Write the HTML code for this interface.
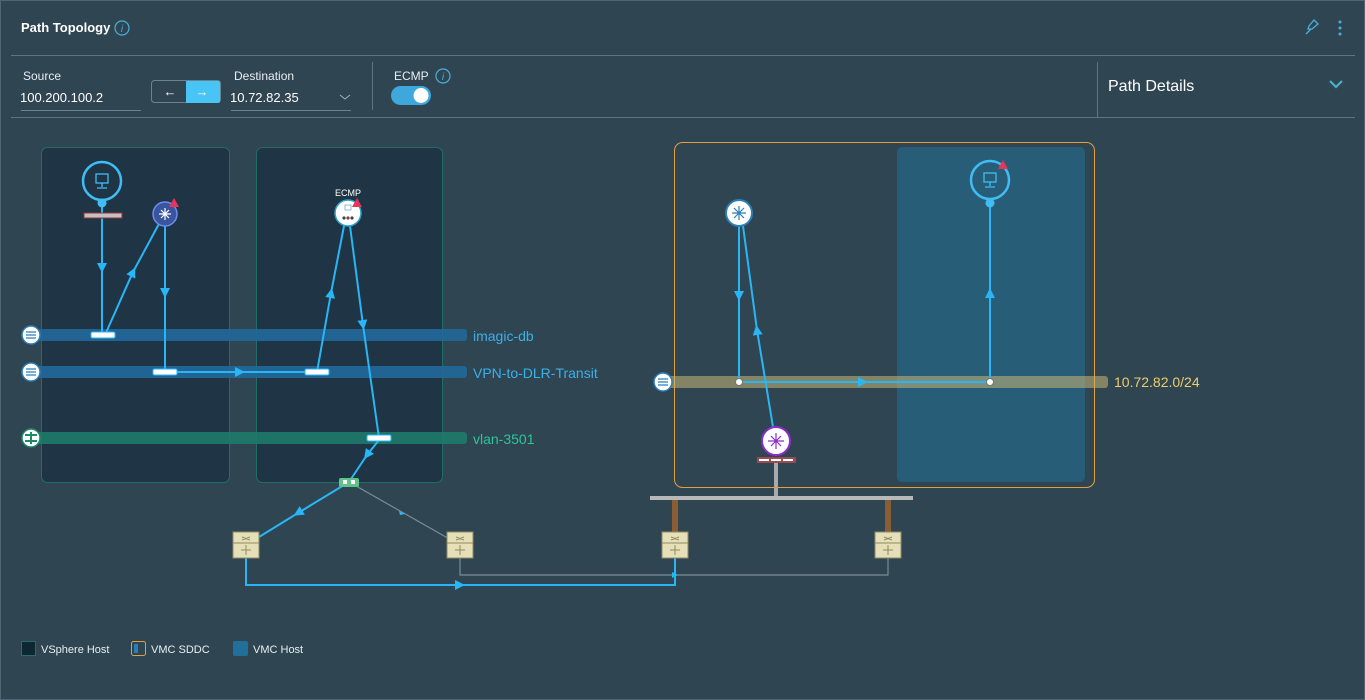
<!DOCTYPE html>
<html><head><meta charset="utf-8"><style>
html,body{margin:0;padding:0;background:#304552;}
svg{display:block;font-family:"Liberation Sans",sans-serif;}
</style></head><body>
<svg width="1365" height="700" viewBox="0 0 1365 700" xmlns="http://www.w3.org/2000/svg">
<defs>
<marker id="a" viewBox="0 0 10 10" refX="5" refY="5" markerWidth="5" markerHeight="5" orient="auto"><path d="M0,0L10,5L0,10z" fill="#29b6f6"/></marker>
</defs>
<rect x="0.5" y="0.5" width="1364" height="699" fill="#304552" stroke="#4f6573"/>
<!-- header -->
<text x="21" y="32" font-size="13" font-weight="bold" fill="#fff">Path Topology</text>
<circle cx="122" cy="28" r="7" fill="none" stroke="#49afd9" stroke-width="1.2"/>
<text x="122" y="32" font-size="10" font-style="italic" fill="#49afd9" text-anchor="middle">i</text>
<path d="M1306,34 l5,-5 M1309,26 l5,-6 4,4 -6,5 -4,0 z" fill="none" stroke="#49afd9" stroke-width="1.3"/>
<circle cx="1340" cy="22" r="1.5" fill="#49afd9"/><circle cx="1340" cy="28" r="1.5" fill="#49afd9"/><circle cx="1340" cy="34" r="1.5" fill="#49afd9"/>
<line x1="11" y1="55.5" x2="1355" y2="55.5" stroke="#5d7482"/>
<text x="23" y="80" font-size="12" fill="#e8eef1">Source</text>
<text x="20" y="102" font-size="13" fill="#fff">100.200.100.2</text>
<line x1="21" y1="110.5" x2="141" y2="110.5" stroke="#6c8290"/>
<rect x="151.5" y="80.5" width="69" height="22" rx="3" fill="#304552" stroke="#6c8290"/>
<path d="M186,81 h32 a2,2 0 0 1 2,2 v18 a2,2 0 0 1 -2,2 h-32z" fill="#49c5f5"/>
<text x="170" y="96" font-size="13" fill="#fff" text-anchor="middle">←</text>
<text x="202" y="96" font-size="13" fill="#fff" text-anchor="middle">→</text>
<text x="234" y="80" font-size="12" fill="#e8eef1">Destination</text>
<text x="230" y="102" font-size="13" fill="#fff">10.72.82.35</text>
<path d="M340,95 l5,4 5,-4" fill="none" stroke="#9fb0ba"/>
<line x1="231" y1="110.5" x2="351" y2="110.5" stroke="#6c8290"/>
<line x1="372.5" y1="62" x2="372.5" y2="110" stroke="#5d7482"/>
<text x="394" y="80" font-size="12" fill="#e8eef1">ECMP</text>
<circle cx="443" cy="76" r="7" fill="none" stroke="#49afd9" stroke-width="1.2"/>
<text x="443" y="80" font-size="10" font-style="italic" fill="#49afd9" text-anchor="middle">i</text>
<rect x="391" y="86" width="40" height="19" rx="9.5" fill="#3ea8dd"/>
<circle cx="421" cy="95.5" r="7.5" fill="#fff"/>
<line x1="1097.5" y1="62" x2="1097.5" y2="118" stroke="#5d7482"/>
<text x="1108" y="91" font-size="16" fill="#fff">Path Details</text>
<path d="M1330,81 l6,6 6,-6" fill="none" stroke="#49afc9" stroke-width="2.2"/>
<line x1="11" y1="117.5" x2="1355" y2="117.5" stroke="#5d7482"/>

<!-- hosts left -->
<rect x="41.5" y="147.5" width="188" height="335" rx="6" fill="#1f3545" stroke="#1f6e66"/>
<rect x="256.5" y="147.5" width="186" height="335" rx="6" fill="#1f3545" stroke="#1f6e66"/>
<!-- bars -->
<rect x="35" y="329" width="432" height="12" rx="3" fill="#21689a" opacity="0.9"/>
<rect x="35" y="366" width="432" height="12" rx="3" fill="#21689a" opacity="0.9"/>
<rect x="35" y="432" width="432" height="12" rx="3" fill="#1e7a6a" opacity="0.9"/>
<text x="473" y="341" font-size="14" fill="#3ab0ea">imagic-db</text>
<text x="473" y="378" font-size="14" fill="#3ab0ea">VPN-to-DLR-Transit</text>
<text x="473" y="444" font-size="14" fill="#2ec49a">vlan-3501</text>
<circle cx="31" cy="335" r="9" fill="#fff" stroke="#2a7fb8" stroke-width="1.5"/>
<path d="M26,332h10M26,335h10M26,338h10" stroke="#2a7fb8" stroke-width="1.2"/>
<circle cx="31" cy="372" r="9" fill="#fff" stroke="#2a7fb8" stroke-width="1.5"/>
<path d="M26,369h10M26,372h10M26,375h10" stroke="#2a7fb8" stroke-width="1.2"/>
<circle cx="31" cy="438" r="9" fill="#fff" stroke="#1f8a6a" stroke-width="1.5"/>
<path d="M25,435h12M25,441h12M31,432v12" stroke="#1f8a6a" stroke-width="2"/>

<!-- left lines -->
<g stroke="#29b6f6" stroke-width="2" fill="none">
<path d="M102,205 L102,268 L102,335" marker-mid="url(#a)"/>
<path d="M105,335 L133,272 L160,222" marker-mid="url(#a)"/>
<path d="M165,226 L165,293 L165,372" marker-mid="url(#a)"/>
<path d="M165,372 L240,372 L317,372" marker-mid="url(#a)"/>
<path d="M317,372 L331,293 L344,226" marker-mid="url(#a)"/>
<path d="M350,226 L363,325 L379,438" marker-mid="url(#a)"/>
<path d="M379,440 L367,455 L349,482" marker-mid="url(#a)"/>
<path d="M349,482 L298,513 L246,545" marker-mid="url(#a)"/>
<path d="M246,557 V585 H675 V557"/>
<path d="M450,585 L460,585 L470,585" marker-mid="url(#a)"/>
</g>
<g stroke="#7a8c96" stroke-width="1.2" fill="none">
<path d="M349,482 L460,545"/>
<path d="M460,557 V575 H888 V557"/>
</g>
<path d="M399,511 l6,3 -5,1z" fill="#29b6f6"/>
<path d="M672,572 l6,3 -6,3z" fill="#29b6f6"/>
<!-- ports -->
<g fill="#fff" stroke="#29b6f6">
<rect x="91" y="332" width="24" height="6" rx="1.5"/>
<rect x="153" y="369" width="24" height="6" rx="1.5"/>
<rect x="305" y="369" width="24" height="6" rx="1.5"/>
<rect x="367" y="435" width="24" height="6" rx="1.5"/>
</g>
<!-- VM left -->
<circle cx="102" cy="181" r="19" fill="#1f3545" stroke="#3fbdf4" stroke-width="2.5"/>
<rect x="96" y="174" width="12" height="9" fill="none" stroke="#3fbdf4" stroke-width="1.3"/>
<path d="M102,183v4M97,188h10" stroke="#3fbdf4" stroke-width="1.3"/>
<circle cx="102" cy="203" r="4.5" fill="#3fbdf4"/>
<rect x="84" y="213" width="38" height="5" fill="#c8c0c0" stroke="#8a3a3a"/>
<!-- router left -->
<circle cx="165" cy="214" r="12" fill="#3a55a0" stroke="#6b8ce8" stroke-width="1.5"/>
<path d="M159,214h12M165,208v12M161,210l8,8M169,210l-8,8" stroke="#fff" stroke-width="1.2"/>
<path d="M174,198 l5,9 h-10z" fill="#e8345a"/>
<!-- ECMP node -->
<text x="348" y="196" font-size="9" fill="#fff" text-anchor="middle">ECMP</text>
<circle cx="348" cy="213" r="13" fill="#fff" stroke="#2aa0c8" stroke-width="1.5"/>
<circle cx="344" cy="218" r="1.6" fill="#444"/><circle cx="348" cy="218" r="1.6" fill="#744"/><circle cx="352" cy="218" r="1.6" fill="#444"/>
<rect x="345" y="205" width="6" height="5" fill="none" stroke="#7ac" stroke-width="0.8"/>
<path d="M357,198 l5,9 h-10z" fill="#e8345a"/>
<rect x="339" y="478" width="20" height="9" rx="2" fill="#5ec48a"/>
<rect x="343" y="480" width="4" height="4" fill="#fff"/><rect x="351" y="480" width="4" height="4" fill="#fff"/>

<!-- gray bus -->
<rect x="774" y="460" width="4" height="38" fill="#aaa"/>
<rect x="650" y="496" width="263" height="4" fill="#b8b8b8"/>
<rect x="672" y="500" width="6" height="32" fill="#8a5e34"/>
<rect x="885" y="500" width="6" height="32" fill="#8a5e34"/>
<!-- switch boxes -->
<g fill="#e6e0b8" stroke="#8f8a66">
<rect x="233" y="532" width="26" height="26"/><rect x="447" y="532" width="26" height="26"/>
<rect x="662" y="532" width="26" height="26"/><rect x="875" y="532" width="26" height="26"/>
</g>
<g stroke="#8f8a66" stroke-width="1">
<path d="M233,543h26M447,543h26M662,543h26M875,543h26"/>
<path d="M242,537l8,3M242,540l8,-3M456,537l8,3M456,540l8,-3M671,537l8,3M671,540l8,-3M884,537l8,3M884,540l8,-3"/>
<path d="M241,550h10M246,545v10M455,550h10M460,545v10M670,550h10M675,545v10M883,550h10M888,545v10"/>
</g>

<!-- right -->
<rect x="674.5" y="142.5" width="420" height="345" rx="8" fill="none" stroke="#e0a040"/>
<rect x="897" y="147" width="188" height="335" rx="5" fill="#285d78"/>
<rect x="660" y="376" width="448" height="12" rx="3" fill="#c8b676" opacity="0.55"/>
<text x="1114" y="387" font-size="14" fill="#f0cc6a">10.72.82.0/24</text>
<circle cx="663" cy="382" r="9" fill="#fff" stroke="#2a7fb8" stroke-width="1.5"/>
<path d="M658,379h10M658,382h10M658,385h10" stroke="#2a7fb8" stroke-width="1.2"/>
<g stroke="#29b6f6" stroke-width="2" fill="none">
<path d="M739,226 L739,296 L739,382" marker-mid="url(#a)"/>
<path d="M773,427 L757,330 L743,226" marker-mid="url(#a)"/>
<path d="M739,382 L863,382 L990,382" marker-mid="url(#a)"/>
<path d="M990,382 L990,293 L990,205" marker-mid="url(#a)"/>
</g>
<circle cx="739" cy="382" r="3.5" fill="#fff" stroke="#777"/>
<circle cx="990" cy="382" r="3.5" fill="#fff" stroke="#777"/>
<circle cx="739" cy="213" r="13" fill="#fff" stroke="#2a7fb8" stroke-width="2"/>
<path d="M732,213h14M739,206v14M734,208l10,10M744,208l-10,10" stroke="#2a7fb8" stroke-width="1.2"/>
<circle cx="990" cy="180" r="19" fill="#285d78" stroke="#3fbdf4" stroke-width="2.5"/>
<rect x="984" y="173" width="12" height="9" fill="none" stroke="#3fbdf4" stroke-width="1.3"/>
<path d="M990,182v4M985,187h10" stroke="#3fbdf4" stroke-width="1.3"/>
<circle cx="990" cy="203" r="4.5" fill="#3fbdf4"/>
<path d="M1003,160 l5,9 h-10z" fill="#e8345a"/>
<circle cx="776" cy="441" r="14" fill="#fff" stroke="#8a2fc8" stroke-width="2"/>
<path d="M768,441h16M776,433v16M771,436l10,10M781,436l-10,10" stroke="#8a2fc8" stroke-width="1.2"/>
<rect x="757" y="457" width="39" height="6" fill="#9a4a50"/>
<rect x="759" y="459" width="10" height="2" fill="#fff"/><rect x="771" y="459" width="10" height="2" fill="#fff"/><rect x="783" y="459" width="10" height="2" fill="#fff"/>

<!-- legend -->
<rect x="21.5" y="641.5" width="14" height="14" fill="#0f2633" stroke="#2a6a6a"/>
<text x="41" y="653" font-size="11" fill="#e8eef1">VSphere Host</text>
<rect x="131.5" y="641.5" width="14" height="14" rx="2" fill="#304552" stroke="#e0a040"/>
<rect x="134" y="644" width="4" height="9" fill="#2a7fb8"/>
<text x="151" y="653" font-size="11" fill="#e8eef1">VMC SDDC</text>
<rect x="233" y="641" width="15" height="15" rx="2" fill="#21709a"/>
<text x="253" y="653" font-size="11" fill="#e8eef1">VMC Host</text>
</svg>
</body></html>
